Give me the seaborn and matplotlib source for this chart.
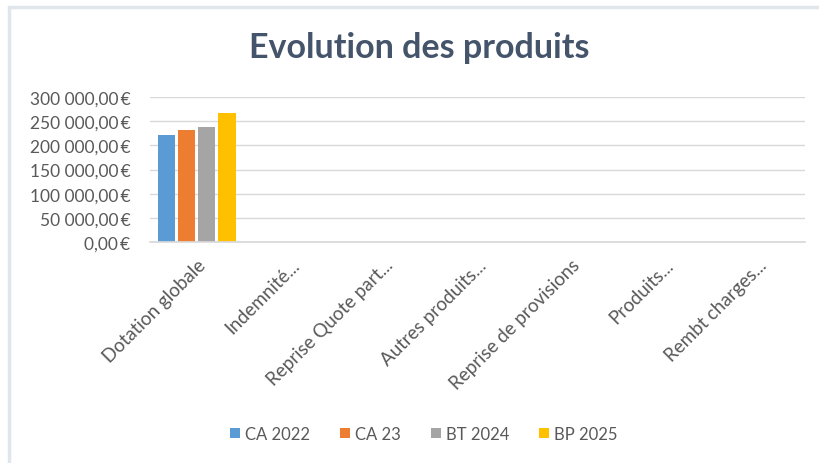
import matplotlib
matplotlib.use("Agg")
import matplotlib.pyplot as plt
import matplotlib.ticker as mticker
from matplotlib.lines import Line2D
import seaborn as sns
import pandas as pd

categories = ["Dotation globale", "Indemnité...", "Reprise Quote part...",
              "Autres produits...", "Reprise de provisions", "Produits...",
              "Rembt charges..."]
series = ["CA 2022", "CA 23", "BT 2024", "BP 2025"]
ca2022 = [221000, 0, 0, 0, 0, 0, 0]
ca23 = [232000, 0, 0, 0, 0, 0, 0]
bt2024 = [238000, 0, 0, 0, 0, 0, 0]
bp2025 = [267000, 0, 0, 0, 0, 0, 0]
colors = ["#5B9BD5", "#ED7D31", "#A5A5A5", "#FFC000"]

rows = []
for s, vals in zip(series, [ca2022, ca23, bt2024, bp2025]):
    for c, v in zip(categories, vals):
        rows.append({"cat": c, "serie": s, "val": v})
df = pd.DataFrame(rows)

sns.set_theme(style="white")
plt.rcParams["font.family"] = ["Lato", "DejaVu Sans"]

fig = plt.figure(figsize=(8.19, 4.64), dpi=100)
ax = fig.add_axes([150/819, 1-243/464, 655/819, 145/464])

sns.barplot(data=df, x="cat", y="val", hue="serie", palette=colors,
            order=categories, hue_order=series, ax=ax, width=0.86,
            linewidth=0, saturation=1, legend=True)
for i, cont in enumerate(ax.containers):
    for p in cont.patches:
        w = p.get_width()
        p.set_width(w * 0.86)
        p.set_x(p.get_x() + w * 0.07)

ax.set_ylim(0, 300000)
ax.set_yticks(range(0, 300001, 50000))
ax.yaxis.set_major_formatter(mticker.FuncFormatter(
    lambda v, _: ("{:,.2f}".format(v).replace(",", " ").replace(".", ",")) + "\u2009€"))
ax.grid(axis="y", color="#D9D9D9", linewidth=1)
ax.set_axisbelow(True)
for sp in ["top", "right", "left"]:
    ax.spines[sp].set_visible(False)
ax.spines["bottom"].set_color("#D9D9D9")
ax.tick_params(axis="y", length=0, colors="#595959", labelsize=12.5, pad=14)
ax.tick_params(axis="x", length=0, colors="#595959", labelsize=13.5, pad=10)
ax.set_xlabel("")
ax.set_ylabel("")
plt.setp(ax.get_xticklabels(), rotation=45, ha="right", rotation_mode="anchor")

leg = ax.legend(loc="center", bbox_to_anchor=(424/819, (464-435)/464),
                bbox_transform=fig.transFigure, ncol=4, frameon=False,
                fontsize=12, handlelength=0.6, handleheight=0.6,
                handletextpad=0.3, columnspacing=1.8)
for t in leg.get_texts():
    t.set_color("#595959")

fig.text(419/819, 1-48/464, "Evolution des produits", ha="center", va="center",
         fontsize=24.5, fontweight="bold", color="#44546A")

fig.add_artist(Line2D([9/819, 9/819], [0, 1-8/464], transform=fig.transFigure,
                      color="#E1E5EC", linewidth=2.5))
fig.add_artist(Line2D([9/819, 1], [1-8/464, 1-8/464], transform=fig.transFigure,
                      color="#E1E5EC", linewidth=2.5))

fig.savefig("out.png", dpi=100)
